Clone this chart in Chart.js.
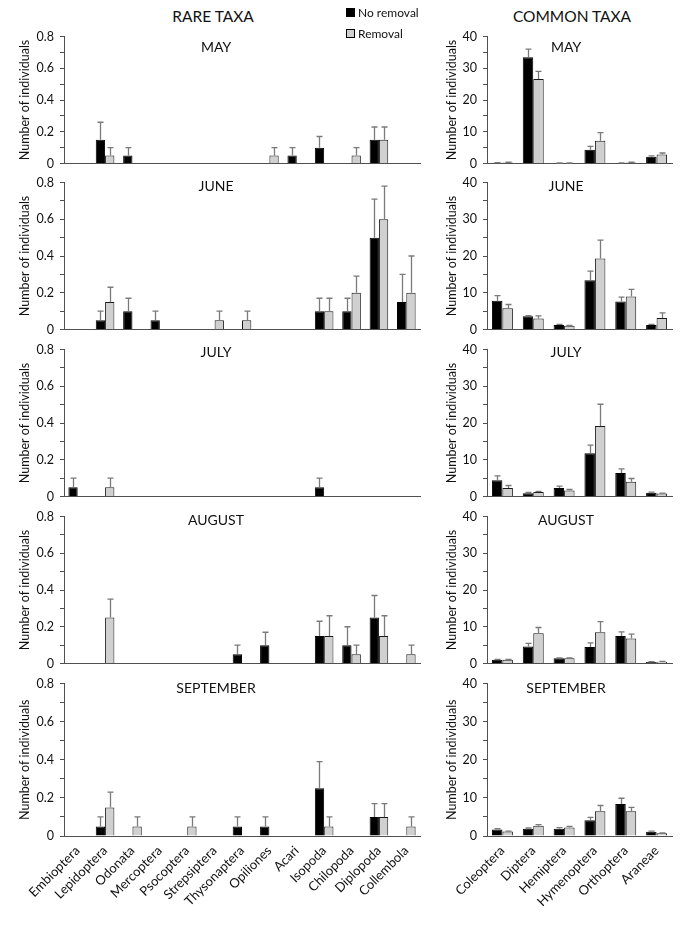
<!DOCTYPE html>
<html>
<head>
<meta charset="utf-8">
<script src="https://cdn.jsdelivr.net/npm/chart.js@4.4.1/dist/chart.umd.min.js"></script>
<style>
  html, body { margin: 0; padding: 0; background: #fff; }
  body { width: 685px; height: 925px; position: relative; overflow: hidden; font-family: Lato, "Open Sans", sans-serif; color: #111; }
  .heading { position: absolute; top: 7px; font-size: 15.5px; transform: translateX(-50%); white-space: nowrap; }
  .legend { position: absolute; left: 346px; top: 2px; font-size: 12px; line-height: 21px; z-index: 2; }
  .legend .box { display: inline-block; width: 7px; height: 7px; border: 1px solid #000; margin-right: 3px; }
  canvas { position: absolute; }
</style>
</head>
<body>
<div class="heading" style="left:213px">RARE TAXA</div>
<div class="heading" style="left:572px">COMMON TAXA</div>
<div class="legend">
  <div><span class="box" style="background:#000"></span>No removal</div>
  <div><span class="box" style="background:#d0d0d0"></span>Removal</div>
</div>
<script>
// --- Categories ---
const rareTaxa = ['Embioptera', 'Lepidoptera', 'Odonata', 'Mercoptera', 'Psocoptera', 'Strepsiptera',
  'Thysonaptera', 'Opiliones', 'Acari', 'Isopoda', 'Chilopoda', 'Diplopoda', 'Collembola'];
const commonTaxa = ['Coleoptera', 'Diptera', 'Hemiptera', 'Hymenoptera', 'Orthoptera', 'Araneae'];
const months = ['MAY', 'JUNE', 'JULY', 'AUGUST', 'SEPTEMBER'];

// --- Rare taxa: means and upper error (no removal / removal) ---
const rareMayNoRem    = [0, 0.15, 0.05, 0, 0, 0, 0, 0, 0.05, 0.10, 0, 0.15, 0];
const rareMayRem      = [0, 0.05, 0, 0, 0, 0, 0, 0.05, 0, 0, 0.05, 0.15, 0];
const rareMayNoRemErr = [0, 0.11, 0.05, 0, 0, 0, 0, 0, 0.05, 0.07, 0, 0.08, 0];
const rareMayRemErr   = [0, 0.05, 0, 0, 0, 0, 0, 0.05, 0, 0, 0.05, 0.08, 0];

const rareJunNoRem    = [0, 0.05, 0.10, 0.05, 0, 0, 0, 0, 0, 0.10, 0.10, 0.50, 0.15];
const rareJunRem      = [0, 0.15, 0, 0, 0, 0.05, 0.05, 0, 0, 0.10, 0.20, 0.60, 0.20];
const rareJunNoRemErr = [0, 0.05, 0.07, 0.05, 0, 0, 0, 0, 0, 0.07, 0.07, 0.21, 0.15];
const rareJunRemErr   = [0, 0.08, 0, 0, 0, 0.05, 0.05, 0, 0, 0.07, 0.09, 0.18, 0.20];

const rareJulNoRem    = [0.05, 0, 0, 0, 0, 0, 0, 0, 0, 0.05, 0, 0, 0];
const rareJulRem      = [0, 0.05, 0, 0, 0, 0, 0, 0, 0, 0, 0, 0, 0];
const rareJulNoRemErr = [0.05, 0, 0, 0, 0, 0, 0, 0, 0, 0.05, 0, 0, 0];
const rareJulRemErr   = [0, 0.05, 0, 0, 0, 0, 0, 0, 0, 0, 0, 0, 0];

const rareAugNoRem    = [0, 0, 0, 0, 0, 0, 0.05, 0.10, 0, 0.15, 0.10, 0.25, 0];
const rareAugRem      = [0, 0.25, 0, 0, 0, 0, 0, 0, 0, 0.15, 0.05, 0.15, 0.05];
const rareAugNoRemErr = [0, 0, 0, 0, 0, 0, 0.05, 0.07, 0, 0.08, 0.10, 0.12, 0];
const rareAugRemErr   = [0, 0.10, 0, 0, 0, 0, 0, 0, 0, 0.11, 0.05, 0.11, 0.05];

const rareSepNoRem    = [0, 0.05, 0, 0, 0, 0, 0.05, 0.05, 0, 0.25, 0, 0.10, 0];
const rareSepRem      = [0, 0.15, 0.05, 0, 0.05, 0, 0, 0, 0, 0.05, 0, 0.10, 0.05];
const rareSepNoRemErr = [0, 0.05, 0, 0, 0, 0, 0.05, 0.05, 0, 0.14, 0, 0.07, 0];
const rareSepRemErr   = [0, 0.08, 0.05, 0, 0.05, 0, 0, 0, 0, 0.05, 0, 0.07, 0.05];

// --- Common taxa: means and upper error ---
const comMayNoRem    = [0.2, 33.5, 0.1, 4.3, 0.1, 2.1];
const comMayRem      = [0.3, 26.6, 0.1, 7.2, 0.3, 2.8];
const comMayNoRemErr = [0.1, 2.5, 0.05, 1.1, 0.1, 0.3];
const comMayRemErr   = [0.1, 2.4, 0.05, 2.5, 0.1, 0.5];

const comJunNoRem    = [7.8, 3.6, 1.2, 13.4, 7.6, 1.2];
const comJunRem      = [5.8, 3.0, 1.0, 19.3, 9.0, 3.1];
const comJunNoRemErr = [1.4, 0.2, 0.2, 2.5, 1.2, 0.2];
const comJunRemErr   = [1.0, 0.7, 0.1, 5.0, 1.9, 1.4];

const comJulNoRem    = [4.4, 0.9, 2.3, 11.8, 6.4, 1.0];
const comJulRem      = [2.3, 1.2, 1.6, 19.2, 4.0, 0.8];
const comJulNoRemErr = [1.2, 0.2, 0.5, 2.2, 1.1, 0.2];
const comJulRemErr   = [0.7, 0.2, 0.3, 5.9, 0.9, 0.1];

const comAugNoRem    = [1.0, 4.6, 1.4, 4.5, 7.5, 0.4];
const comAugRem      = [1.0, 8.2, 1.4, 8.5, 6.8, 0.5];
const comAugNoRemErr = [0.1, 0.9, 0.1, 1.1, 1.1, 0.1];
const comAugRemErr   = [0.1, 1.6, 0.1, 2.9, 1.2, 0.1];

const comSepNoRem    = [1.7, 1.9, 1.9, 4.1, 8.4, 1.1];
const comSepRem      = [1.2, 2.7, 2.2, 6.5, 6.5, 0.7];
const comSepNoRemErr = [0.2, 0.2, 0.3, 0.8, 1.5, 0.2];
const comSepRemErr   = [0.1, 0.3, 0.3, 1.5, 1.0, 0.1];

// --- Layout ---
const colLeft = [0, 430];
const colWidth = [430, 255];
const padLeft = [13, 10];
const padRight = [10, 13];
const yAxisWidth = [51, 47];
const plotTop = [36, 182, 349, 516, 683];
const plotBottom = [163, 329, 496, 663, 835];
const monthDy = [11, 4, 3, 4, 5];
const AXIS = '#505050';
const TEXT = '#111';
const FONT = 'Lato, "Open Sans", sans-serif';

// upward error bars, drawn from the top of each bar
const errorBars = {
  id: 'errorBars',
  afterDatasetsDraw(chart) {
    const ctx = chart.ctx;
    const y = chart.scales.y;
    ctx.save();
    ctx.strokeStyle = '#7a7a7a';
    ctx.lineWidth = 1.3;
    chart.data.datasets.forEach((ds, i) => {
      chart.getDatasetMeta(i).data.forEach((bar, j) => {
        const e = ds.errors[j];
        if (!e) return;
        const top = y.getPixelForValue(ds.data[j] + e);
        const x = Math.round(bar.x) + 0.5;
        ctx.beginPath();
        ctx.moveTo(x, bar.y);
        ctx.lineTo(x, top);
        ctx.moveTo(x - 3, top);
        ctx.lineTo(x + 3, top);
        ctx.stroke();
      });
    });
    ctx.restore();
  }
};

// month name inside the plot
const monthLabel = {
  id: 'monthLabel',
  afterDraw(chart, args, opts) {
    const { ctx, chartArea } = chart;
    ctx.save();
    ctx.font = '14px ' + FONT;
    ctx.fillStyle = TEXT;
    ctx.textAlign = 'center';
    ctx.textBaseline = 'middle';
    ctx.fillText(opts.text, chartArea.left + 0.427 * (chartArea.right - chartArea.left), chartArea.top + opts.dy);
    ctx.restore();
  }
};

function panelConfig(col, row, labels, noRem, rem, noRemErr, remErr, yMax, yStep, xH) {
  const last = row === months.length - 1;
  return {
    type: 'bar',
    data: {
      labels: labels,
      datasets: [
        { label: 'No removal', data: noRem, errors: noRemErr, backgroundColor: '#000', borderColor: '#000', borderWidth: 1 },
        { label: 'Removal', data: rem, errors: remErr, backgroundColor: '#d0d0d0', borderColor: '#1a1a1a', borderWidth: 1 }
      ]
    },
    options: {
      responsive: false,
      maintainAspectRatio: false,
      animation: false,
      events: [],
      layout: { padding: { top: 10, left: padLeft[col], right: padRight[col], bottom: 0 } },
      datasets: { bar: { categoryPercentage: 0.68, barPercentage: 1.0 } },
      plugins: {
        legend: { display: false },
        tooltip: { enabled: false },
        monthLabel: { text: months[row], dy: monthDy[row] }
      },
      scales: {
        x: {
          grid: { display: false, drawTicks: false },
          border: { color: AXIS, width: 1 },
          ticks: {
            display: last,
            maxRotation: 45,
            minRotation: 45,
            autoSkip: false,
            padding: 7,
            color: TEXT,
            font: { family: FONT, size: 13 }
          },
          afterFit: s => { s.height = xH; }
        },
        y: {
          min: 0,
          max: yMax,
          border: { color: AXIS, width: 1 },
          grid: { drawOnChartArea: false, tickLength: 4, color: AXIS },
          ticks: {
            stepSize: yStep,
            autoSkip: false,
            padding: 6,
            color: TEXT,
            font: { family: FONT, size: 12.5 },
            callback: v => (Math.round(v / yStep) % 2 === 0 ? String(+v.toFixed(1)) : '')
          },
          title: {
            display: true,
            text: 'Number of individuals',
            color: TEXT,
            font: { family: FONT, size: 12.5 }
          },
          afterFit: s => { s.width = yAxisWidth[col]; }
        }
      }
    },
    plugins: [errorBars, monthLabel]
  };
}

function drawPanel(col, row, labels, noRem, rem, noRemErr, remErr, yMax, yStep) {
  const xH = row === months.length - 1 ? 88 : 6;
  const plotH = plotBottom[row] - plotTop[row];
  const cv = document.createElement('canvas');
  cv.width = colWidth[col];
  cv.height = 10 + plotH + xH;
  cv.style.left = colLeft[col] + 'px';
  document.body.appendChild(cv);

  // first pass: measure how much room the library keeps around the plot
  let chart = new Chart(cv, panelConfig(col, row, labels, noRem, rem, noRemErr, remErr, yMax, yStep, xH));
  const above = chart.chartArea.top;
  const below = cv.height - chart.chartArea.bottom;
  chart.destroy();

  // second pass: size the canvas so the plot lands where it should
  cv.width = colWidth[col];
  cv.height = Math.round(above + plotH + below);
  cv.style.left = colLeft[col] + 'px';
  cv.style.top = Math.round(plotTop[row] - above) + 'px';
  new Chart(cv, panelConfig(col, row, labels, noRem, rem, noRemErr, remErr, yMax, yStep, xH));
}

// rare taxa (left column)
drawPanel(0, 0, rareTaxa, rareMayNoRem, rareMayRem, rareMayNoRemErr, rareMayRemErr, 0.8, 0.1);
drawPanel(0, 1, rareTaxa, rareJunNoRem, rareJunRem, rareJunNoRemErr, rareJunRemErr, 0.8, 0.1);
drawPanel(0, 2, rareTaxa, rareJulNoRem, rareJulRem, rareJulNoRemErr, rareJulRemErr, 0.8, 0.1);
drawPanel(0, 3, rareTaxa, rareAugNoRem, rareAugRem, rareAugNoRemErr, rareAugRemErr, 0.8, 0.1);
drawPanel(0, 4, rareTaxa, rareSepNoRem, rareSepRem, rareSepNoRemErr, rareSepRemErr, 0.8, 0.1);

// common taxa (right column)
drawPanel(1, 0, commonTaxa, comMayNoRem, comMayRem, comMayNoRemErr, comMayRemErr, 40, 5);
drawPanel(1, 1, commonTaxa, comJunNoRem, comJunRem, comJunNoRemErr, comJunRemErr, 40, 5);
drawPanel(1, 2, commonTaxa, comJulNoRem, comJulRem, comJulNoRemErr, comJulRemErr, 40, 5);
drawPanel(1, 3, commonTaxa, comAugNoRem, comAugRem, comAugNoRemErr, comAugRemErr, 40, 5);
drawPanel(1, 4, commonTaxa, comSepNoRem, comSepRem, comSepNoRemErr, comSepRemErr, 40, 5);
</script>
</body>
</html>
